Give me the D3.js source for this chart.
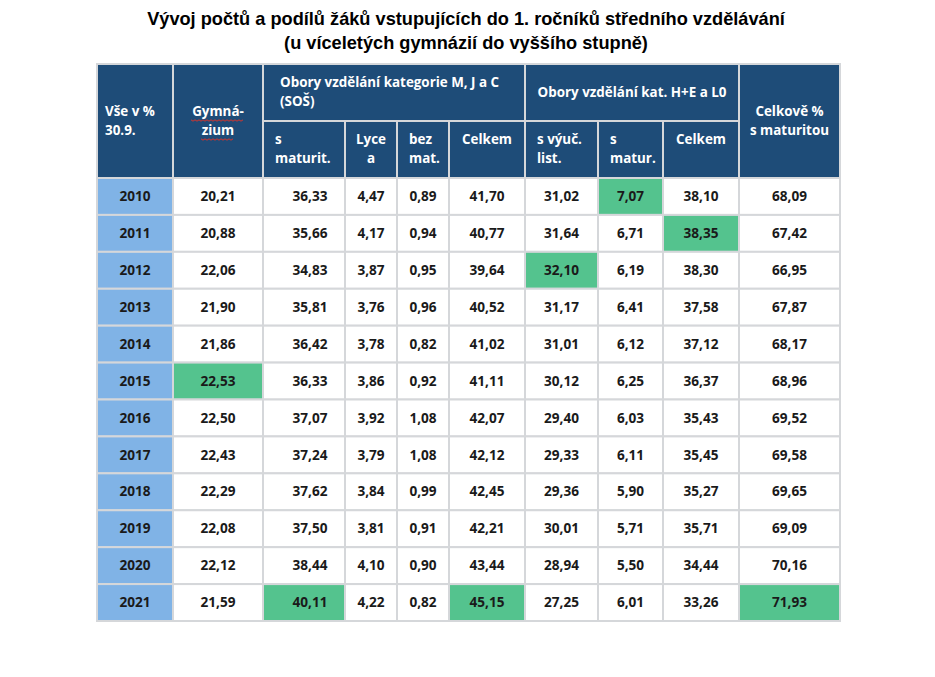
<!DOCTYPE html>
<html><head><meta charset="utf-8">
<script src="https://cdn.jsdelivr.net/npm/d3@7"></script>
<style>
body{margin:0;background:#fff;}
svg{display:block;}
</style></head>
<body><svg id="c" width="935" height="677"></svg>
<script>
// ---- data ----
const titleLines = ["Vývoj počtů a podílů žáků vstupujících do 1. ročníků středního vzdělávání",
                    "(u víceletých gymnázií do vyššího stupně)"];
const years = [2010,2011,2012,2013,2014,2015,2016,2017,2018,2019,2020,2021];
const columns = ["rok","gym","smat","lycea","bezmat","celkMJC","svyuc","smatur","celkHE","celkove"];
const gymnazium = [20.21,20.88,22.06,21.90,21.86,22.53,22.50,22.43,22.29,22.08,22.12,21.59];
const sMaturit  = [36.33,35.66,34.83,35.81,36.42,36.33,37.07,37.24,37.62,37.50,38.44,40.11];
const lycea     = [4.47,4.17,3.87,3.76,3.78,3.86,3.92,3.79,3.84,3.81,4.10,4.22];
const bezMat    = [0.89,0.94,0.95,0.96,0.82,0.92,1.08,1.08,0.99,0.91,0.90,0.82];
const celkemMJC = [41.70,40.77,39.64,40.52,41.02,41.11,42.07,42.12,42.45,42.21,43.44,45.15];
const sVyucList = [31.02,31.64,32.10,31.17,31.01,30.12,29.40,29.33,29.36,30.01,28.94,27.25];
const sMatur    = [7.07,6.71,6.19,6.41,6.12,6.25,6.03,6.11,5.90,5.71,5.50,6.01];
const celkemHE  = [38.10,38.35,38.30,37.58,37.12,36.37,35.43,35.45,35.27,35.71,34.44,33.26];
const celkoveMat= [68.09,67.42,66.95,67.87,68.17,68.96,69.52,69.58,69.65,69.09,70.16,71.93];
// highlighted cells: [year, column]
const highlights = [[2010,"smatur"],[2011,"celkHE"],[2012,"svyuc"],[2015,"gym"],[2021,"smat"],[2021,"celkMJC"],[2021,"celkove"]];
const groupHeaders = [
  {label:["Vše v %","30.9."], from:"rok", to:"rok", rows:2, align:"left"},
  {label:["Gymná-","zium"], from:"gym", to:"gym", rows:2, align:"center", squiggle:true},
  {label:["Obory vzdělání kategorie M, J a C","(SOŠ)"], from:"smat", to:"celkMJC", rows:1, align:"left"},
  {label:["Obory vzdělání kat. H+E a L0"], from:"svyuc", to:"celkHE", rows:1, align:"center"},
  {label:["Celkově %","s maturitou"], from:"celkove", to:"celkove", rows:2, align:"center"}
];
const subHeaders = [
  {col:"smat", label:["s","maturit."], align:"left"},
  {col:"lycea", label:["Lyce","a"], align:"center"},
  {col:"bezmat", label:["bez","mat."], align:"left"},
  {col:"celkMJC", label:["Celkem"], align:"center"},
  {col:"svyuc", label:["s výuč.","list."], align:"left"},
  {col:"smatur", label:["s","matur."], align:"left"},
  {col:"celkHE", label:["Celkem"], align:"center"}
];

// ---- layout ----
const colEdges = [97,173,263,345,397,449,525,598,663,739,840];
const headTop = 64, headMid = 121, headBot = 178, tableBot = 621;
const C = {navy:"#1e4c78", blue:"#80b3e6", green:"#54c38e", grid:"#d5d7da", text:"#1a1a1a"};
const FONT = "'Open Sans', 'Noto Sans', sans-serif";

const colIndex = d3.scaleOrdinal().domain(columns).range(d3.range(columns.length));
const xL = c => colEdges[colIndex(c)];
const xR = c => colEdges[colIndex(c)+1];
const y = d3.scaleBand().domain(years).range([headBot, tableBot]).padding(0);
const fmt = v => d3.format(".2f")(v).replace(".", ",");

const series = {gym:gymnazium, smat:sMaturit, lycea:lycea, bezmat:bezMat, celkMJC:celkemMJC,
  svyuc:sVyucList, smatur:sMatur, celkHE:celkemHE, celkove:celkoveMat};

const svg = d3.select("#c");

// title
svg.selectAll("text.title").data(titleLines).join("text")
  .attr("x", 466).attr("y", (d,i)=>25+i*24)
  .attr("text-anchor","middle")
  .attr("font-family","'Liberation Sans', Arial, sans-serif")
  .attr("font-weight","bold").attr("font-size",18.2).attr("fill","#000")
  .text(d=>d);

// header cells
const hg = svg.append("g");
hg.selectAll("rect.gh").data(groupHeaders).join("rect")
  .attr("x", d=>xL(d.from)).attr("y", headTop)
  .attr("width", d=>xR(d.to)-xL(d.from))
  .attr("height", d=> d.rows===2 ? headBot-headTop : headMid-headTop)
  .attr("fill", C.navy).attr("stroke", C.grid).attr("stroke-width", 2);
hg.selectAll("rect.sh").data(subHeaders).join("rect")
  .attr("x", d=>xL(d.col)).attr("y", headMid)
  .attr("width", d=>xR(d.col)-xL(d.col)).attr("height", headBot-headMid)
  .attr("fill", C.navy).attr("stroke", C.grid).attr("stroke-width", 2);

function headerText(sel, d, x0, x1, yStart, pad){
  const t = sel.append("text")
    .attr("font-family", FONT).attr("font-weight","bold").attr("font-size",13.4)
    .attr("fill","#fff")
    .attr("text-anchor", d.align==="left" ? "start" : "middle");
  const x = d.align==="left" ? x0+pad : (x0+x1)/2;
  d.label.forEach((l,i)=> t.append("tspan").attr("x", x).attr("y", yStart + i*19).text(l));
  return t;
}
groupHeaders.forEach(d=>{
  const x0 = xL(d.from), x1 = xR(d.to);
  let ys = 97, pad = 12;
  if (d.rows===2) ys = 116;
  if (d.from==="smat") { ys = 87; pad = 17; }
  if (d.from==="rok") pad = 8;
  headerText(hg, d, x0, x1, ys, pad);
  if (d.squiggle){
    // spell-check style red underline
    const cx = (x0+x1)/2;
    [[cx-27, cx+27, 120],[cx-17, cx+17, 139]].forEach(([a,b,yy])=>{
      const pts = d3.range(a, b, 2).map((x,i)=>[x, yy + (i%2 ? 1.2 : -0.2)]);
      hg.append("path").attr("d", d3.line()(pts)).attr("fill","none")
        .attr("stroke","#d9342b").attr("stroke-width",1);
    });
  }
});
subHeaders.forEach(d=> headerText(hg, d, xL(d.col), xR(d.col), 144, 12));

// body cells
const cells = [];
years.forEach((yr,ri)=>{
  columns.forEach(c=>{
    const isYear = c==="rok";
    const hl = highlights.some(h=>h[0]===yr && h[1]===c);
    cells.push({yr, c, text: isYear ? String(yr) : fmt(series[c][ri]),
      fill: isYear ? C.blue : (hl ? C.green : "#fff")});
  });
});
const bg = svg.append("g");
bg.selectAll("rect").data(cells).join("rect")
  .attr("x", d=>xL(d.c)).attr("y", d=>y(d.yr))
  .attr("width", d=>xR(d.c)-xL(d.c)).attr("height", y.bandwidth())
  .attr("fill", d=>d.fill).attr("stroke", C.grid).attr("stroke-width", 2);
bg.selectAll("text").data(cells).join("text")
  .attr("x", d=>(xL(d.c)+xR(d.c))/2 + (d.c==="smat"?6:0))
  .attr("y", d=>y(d.yr)+y.bandwidth()/2+4.7)
  .attr("text-anchor","middle")
  .attr("font-family", FONT).attr("font-weight","bold").attr("font-size",13.6)
  .attr("fill", C.text)
  .text(d=>d.text);
</script></body></html>
